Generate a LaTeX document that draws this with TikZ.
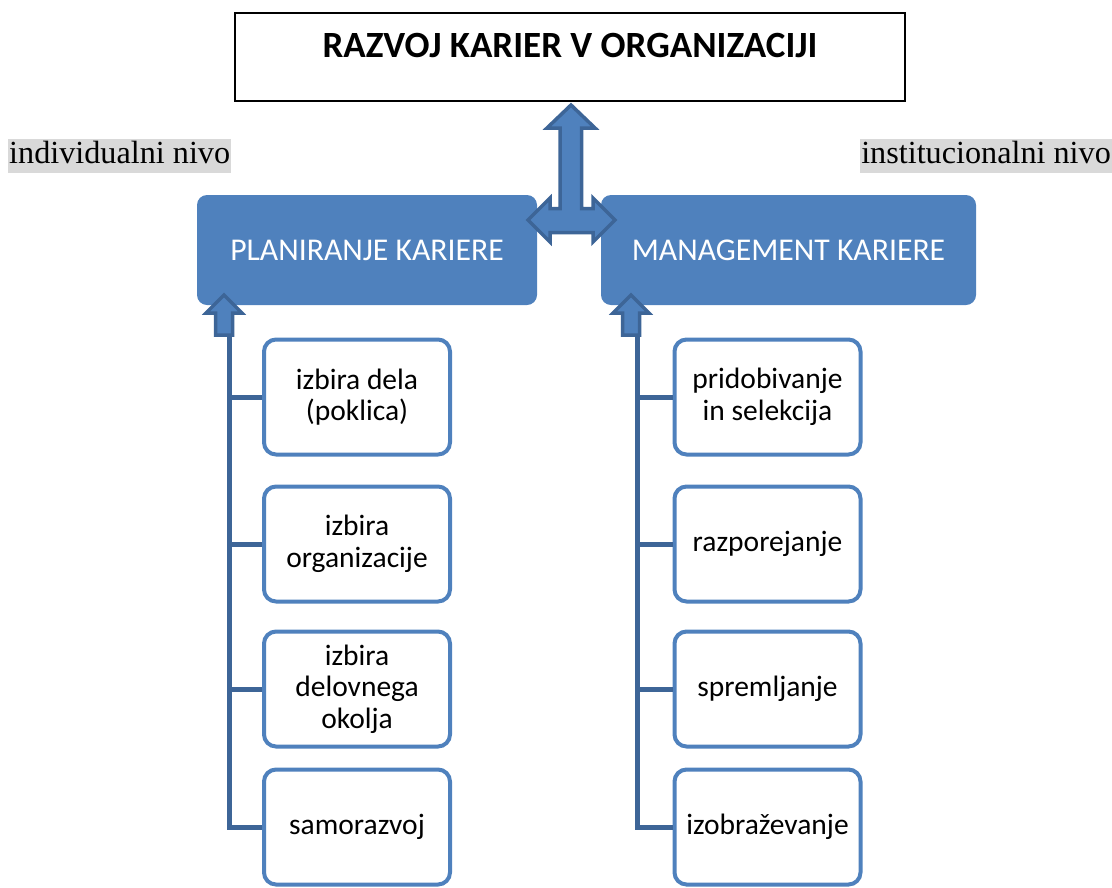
\documentclass[tikz,border=0pt]{standalone}
\usepackage{fontspec}
\setmainfont{Liberation Serif}
\newfontfamily\calibri{Carlito}
\definecolor{accent}{HTML}{4F81BD}
\definecolor{accentdark}{HTML}{3D6597}
\definecolor{nivogray}{HTML}{D9D9D9}
\begin{document}
\begin{tikzpicture}[x=1pt,y=-1pt,
    title/.style={draw,line width=2pt,minimum width=670pt,minimum height=88pt,
        text height=24pt,text depth=24pt,
        font=\calibri\bfseries\fontsize{37}{44}\selectfont},
    level/.style={fill=accent,text=white,rounded corners=10pt,minimum height=110pt,
        font=\calibri\fontsize{31.7}{38}\selectfont},
    item/.style={draw=accent,line width=4pt,fill=white,rounded corners=12pt,
        minimum width=186pt,minimum height=115pt,align=center,
        font=\calibri\fontsize{29.5}{31.5}\selectfont},
    nivo/.style={fill=nivogray,inner xsep=1pt,inner ysep=0pt,text height=24pt,
        text depth=10pt,font=\fontsize{32.2}{38}\selectfont},
    link/.style={draw=accentdark,line width=5pt},
    bigarrow/.style={fill=accent,draw=accentdark,line width=3.5pt,line join=miter}
    ]
    \useasboundingbox (0,0) rectangle (1112,887);
    \node[title] (T) at (570,57) {RAZVOJ KARIER V ORGANIZACIJI};
    \node[nivo,anchor=west] (ind) at (8,156) {individualni nivo};
    \node[nivo,anchor=east] (ins) at (1112,156) {institucionalni nivo};
    \node[level,minimum width=340pt] (P) at (367,250) {PLANIRANJE KARIERE};
    \node[level,minimum width=375pt] (M) at (788.5,250) {MANAGEMENT KARIERE};
    % double arrow between the levels and the title
    \draw[bigarrow] (571,105) -- (595,128) -- (581.5,128) -- (581.5,208.5) -- (593,208.5)
        -- (593,198) -- (615,220) -- (593,242) -- (593,232.5) -- (550,232.5) -- (550,242)
        -- (528,220) -- (550,198) -- (550,208.5) -- (560,208.5) -- (560,128) -- (547,128)
        -- cycle;
    % left column
    \foreach \t/\y [count=\i] in {{izbira dela\\(poklica)}/397,{izbira\\organizacije}/544,
        {izbira\\delovnega\\okolja}/689,{samorazvoj}/827}{%
        \node[item] (L\i) at (357,\y) {\t};
    }
    % right column
    \foreach \t/\y [count=\i] in {{pridobivanje\\in selekcija}/397,{razporejanje}/544,
        {spremljanje}/689,{izobraževanje}/827}{%
        \node[item] (R\i) at (767.5,\y) {\t};
    }
    \coordinate (Lspine) at (229,334);
    \coordinate (Rspine) at (637,334);
    \draw[link] (Lspine) |- (L4.west);
    \draw[link] (Rspine) |- (R4.west);
    \foreach \i in {1,2,3}{%
        \draw[link] (L\i.west) -- (L\i.west -| Lspine);
        \draw[link] (R\i.west) -- (R\i.west -| Rspine);
    }
    % small arrows into the levels
    \foreach \x/\n in {224/P,631/M}{%
        \draw[bigarrow] (\x,295) -- ++(18,18) -- ++(-9.5,0) -- ++(0,22) -- ++(-17,0)
            -- ++(0,-22) -- ++(-9.5,0) -- cycle;
    }
\end{tikzpicture}
\end{document}
